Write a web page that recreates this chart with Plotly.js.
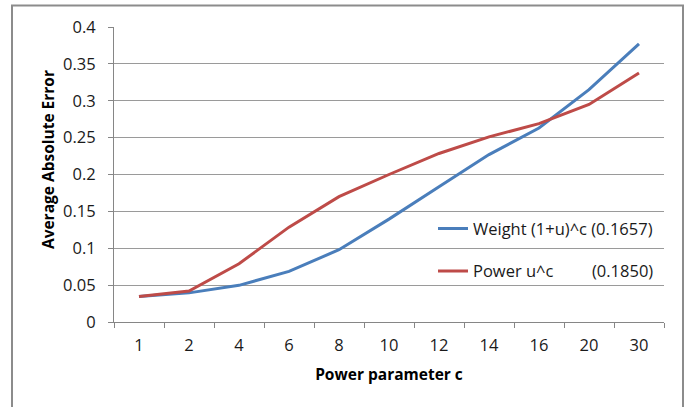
<!DOCTYPE html>
<html>
<head>
<meta charset="utf-8">
<script src="https://cdn.plot.ly/plotly-3.0.1.min.js"></script>
<style>
  html, body { margin: 0; padding: 0; background: #fff; }
  #chart { width: 688px; height: 407px; }
</style>
</head>
<body>
<div id="chart"></div>
<script>
// Power parameter values (categorical axis)
const powerParams = ['1', '2', '4', '6', '8', '10', '12', '14', '16', '20', '30'];

// Average absolute error for each weighting scheme
const weightErrors = [0.0345, 0.0395, 0.0497, 0.0687, 0.098, 0.1395, 0.1835, 0.227, 0.263, 0.315, 0.377];
const powerErrors  = [0.0345, 0.042, 0.079, 0.1286, 0.170, 0.200, 0.2285, 0.251, 0.269, 0.295, 0.3376];

const seriesNames = ['Weight (1+u)^c (0.1657)', 'Power u^c\u00A0\u00A0\u00A0\u00A0\u00A0\u00A0\u00A0\u00A0\u00A0(0.1850)'];

const yTicks = [0, 0.05, 0.1, 0.15, 0.2, 0.25, 0.3, 0.35, 0.4];

const FONT = '"Open Sans", "Noto Sans", sans-serif';
const SIZE = 16.5;

const traces = [
  {
    x: powerParams, y: weightErrors, name: seriesNames[0],
    type: 'scatter', mode: 'lines', legendgroup: 'a',
    line: { color: '#4A7EBB', width: 3 }
  },
  {
    x: powerParams, y: powerErrors, name: seriesNames[1],
    type: 'scatter', mode: 'lines', legendgroup: 'b',
    line: { color: '#BE4B48', width: 3 }
  }
];

const layout = {
  width: 688, height: 407,
  margin: { l: 114, r: 24, t: 26.5, b: 84.5 },
  paper_bgcolor: '#fff', plot_bgcolor: '#fff',
  font: { family: FONT, size: SIZE, color: '#1a1a1a' },
  showlegend: true,
  legend: {
    x: 0.58, y: 0.245, xanchor: 'left', yanchor: 'middle',
    bgcolor: 'rgba(0,0,0,0)', borderwidth: 0,
    tracegroupgap: 18,
    font: { family: FONT, size: SIZE, color: '#1a1a1a' }
  },
  xaxis: {
    type: 'category', range: [-0.5, 10.5],
    showgrid: false, zeroline: false,
    showline: true, linecolor: '#868686', linewidth: 1,
    ticks: 'outside', tickson: 'boundaries', ticklen: 5, tickcolor: '#868686',
    ticklabelstandoff: 8,
    tickfont: { family: FONT, size: SIZE, color: '#1a1a1a' },
    title: { text: 'Power parameter c', font: { family: FONT, size: 15.5, color: '#000', weight: 'bold' }, standoff: 14 }
  },
  yaxis: {
    range: [0, 0.4], tickvals: yTicks,
    showgrid: true, gridcolor: '#9a9a9a', gridwidth: 1,
    zeroline: false,
    showline: true, linecolor: '#868686', linewidth: 1,
    ticks: 'outside', ticklen: 5, tickcolor: '#868686',
    ticklabelstandoff: 9,
    tickfont: { family: FONT, size: SIZE, color: '#1a1a1a' }
  },
  annotations: [
    {
      text: 'Average Absolute Error', textangle: -90,
      xref: 'paper', yref: 'paper',
      x: (48 - 114) / 550, y: (322.5 - 160) / 296,
      xanchor: 'center', yanchor: 'middle', showarrow: false,
      font: { family: FONT, size: 15.5, color: '#000', weight: 'bold' }
    }
  ],
  shapes: [
    {
      type: 'rect', xref: 'paper', yref: 'paper',
      x0: (12 - 114) / 550, x1: (683 - 114) / 550,
      y0: (322.5 - 412) / 296, y1: (322.5 - 5) / 296,
      line: { color: '#8c8c8c', width: 2 }, fillcolor: 'rgba(0,0,0,0)'
    }
  ]
};

Plotly.newPlot('chart', traces, layout, { staticPlot: true, displayModeBar: false });
</script>
</body>
</html>
